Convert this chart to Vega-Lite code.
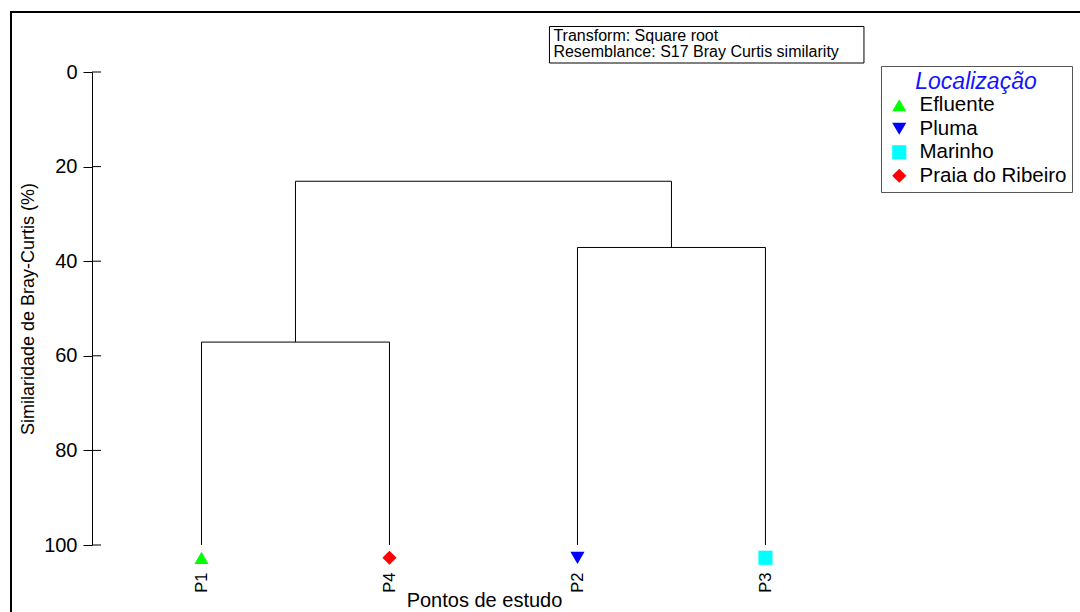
{
  "$schema": "https://vega.github.io/schema/vega-lite/v6.json",
  "width": 784,
  "height": 473,
  "autosize": {"type": "none"},
  "padding": {"left": 92, "top": 72, "right": 204, "bottom": 67},
  "background": "white",
  "datasets": {
    "ramos": [
      {"x": 1, "x2": 1, "y": 100, "y2": 57.1},
      {"x": 2, "x2": 2, "y": 100, "y2": 57.1},
      {"x": 1, "x2": 2, "y": 57.1, "y2": 57.1},
      {"x": 1.5, "x2": 1.5, "y": 57.1, "y2": 23.1},
      {"x": 3, "x2": 3, "y": 100, "y2": 37.1},
      {"x": 4, "x2": 4, "y": 100, "y2": 37.1},
      {"x": 3, "x2": 4, "y": 37.1, "y2": 37.1},
      {"x": 3.5, "x2": 3.5, "y": 37.1, "y2": 23.1},
      {"x": 1.5, "x2": 3.5, "y": 23.1, "y2": 23.1}
    ],
    "pontos": [
      {"ponto": "P1", "pos": 1, "local": "Efluente"},
      {"ponto": "P4", "pos": 2, "local": "Praia do Ribeiro"},
      {"ponto": "P2", "pos": 3, "local": "Pluma"},
      {"ponto": "P3", "pos": 4, "local": "Marinho"}
    ],
    "marcas": [{"v": 0}, {"v": 20}, {"v": 40}, {"v": 60}, {"v": 80}, {"v": 100}],
    "nota": [{"texto": "Transform: Square root\nResemblance: S17 Bray Curtis similarity"}],
    "moldura": [{"id": 1}]
  },
  "config": {
    "font": "Liberation Sans",
    "view": {"stroke": null},
    "legend": {
      "orient": "none",
      "legendX": 789,
      "legendY": -6,
      "strokeColor": "#555555",
      "fillColor": "white",
      "padding": 5,
      "titleFontSize": 23,
      "titleFontStyle": "italic",
      "titleFontWeight": "normal",
      "titleColor": "#1414ff",
      "titleAnchor": "middle",
      "titlePadding": 1,
      "labelFontSize": 20.5,
      "labelColor": "black",
      "labelOffset": 10,
      "symbolOffset": 3,
      "symbolSize": 200,
      "symbolStrokeWidth": 0,
      "rowPadding": 2.5
    }
  },
  "layer": [
    {
      "data": {"name": "moldura"},
      "mark": {"type": "rect", "fill": null, "stroke": "black", "strokeWidth": 2},
      "encoding": {
        "x": {"datum": -0.0133, "type": "quantitative"},
        "x2": {"datum": 5.726},
        "y": {"datum": -12.68, "type": "quantitative"},
        "y2": {"datum": 116.9}
      }
    },
    {
      "data": {"name": "nota"},
      "mark": {"type": "rect", "fill": "white", "stroke": "black", "strokeWidth": 1},
      "encoding": {
        "x": {"datum": 2.851, "type": "quantitative"},
        "x2": {"datum": 4.524},
        "y": {"datum": -9.62, "type": "quantitative"},
        "y2": {"datum": -1.9}
      }
    },
    {
      "data": {"name": "nota"},
      "mark": {"type": "text", "align": "left", "baseline": "top", "fontSize": 16, "lineBreak": "\n", "lineHeight": 16.3, "color": "black"},
      "encoding": {
        "x": {"datum": 2.872, "type": "quantitative"},
        "y": {"datum": -9.32, "type": "quantitative"},
        "text": {"field": "texto"}
      }
    },
    {
      "data": {"name": "marcas"},
      "mark": {"type": "rule", "color": "black", "strokeWidth": 1},
      "encoding": {
        "x": {"datum": 0.4176, "type": "quantitative"},
        "x2": {"datum": 0.4655},
        "y": {"field": "v", "type": "quantitative"}
      }
    },
    {
      "data": {"name": "ramos"},
      "mark": {"type": "rule", "color": "black", "strokeWidth": 1},
      "encoding": {
        "x": {
          "field": "x",
          "type": "quantitative",
          "scale": {"domain": [0.4176, 4.588], "nice": false, "zero": false},
          "axis": {
            "title": "Pontos de estudo",
            "titleFontSize": 20,
            "titleFontWeight": "normal",
            "titleColor": "black",
            "titlePadding": -2,
            "values": [1, 2, 3, 4],
            "labelExpr": "['', 'P1', 'P4', 'P2', 'P3'][datum.value]",
            "labelAngle": 270,
            "labelAlign": "right",
            "labelBaseline": "middle",
            "labelFontSize": 16.5,
            "labelColor": "black",
            "labelPadding": 27,
            "ticks": false,
            "domain": false,
            "grid": false
          }
        },
        "x2": {"field": "x2"},
        "y": {
          "field": "y",
          "type": "quantitative",
          "scale": {"domain": [0, 100], "reverse": true, "nice": false, "zero": false},
          "axis": {
            "title": "Similaridade de Bray-Curtis (%)",
            "titleFontSize": 18,
            "titleFontWeight": "normal",
            "titleColor": "black",
            "titlePadding": 6,
            "values": [0, 20, 40, 60, 80, 100],
            "labelFontSize": 20,
            "labelColor": "black",
            "labelPadding": 6,
            "tickSize": 9,
            "tickColor": "black",
            "domainColor": "black",
            "grid": false
          }
        },
        "y2": {"field": "y2"}
      }
    },
    {
      "data": {"name": "pontos"},
      "mark": {"type": "point", "filled": true, "opacity": 1, "size": 200},
      "encoding": {
        "x": {"field": "pos", "type": "quantitative"},
        "y": {"datum": 102.7, "type": "quantitative"},
        "color": {
          "field": "local",
          "type": "nominal",
          "title": "Localização",
          "scale": {
            "domain": ["Efluente", "Pluma", "Marinho", "Praia do Ribeiro"],
            "range": ["#00ff00", "#0000ff", "#00ffff", "#ff0000"]
          }
        },
        "shape": {
          "field": "local",
          "type": "nominal",
          "title": "Localização",
          "scale": {
            "domain": ["Efluente", "Pluma", "Marinho", "Praia do Ribeiro"],
            "range": ["triangle-up", "triangle-down", "square", "diamond"]
          }
        }
      }
    }
  ]
}
